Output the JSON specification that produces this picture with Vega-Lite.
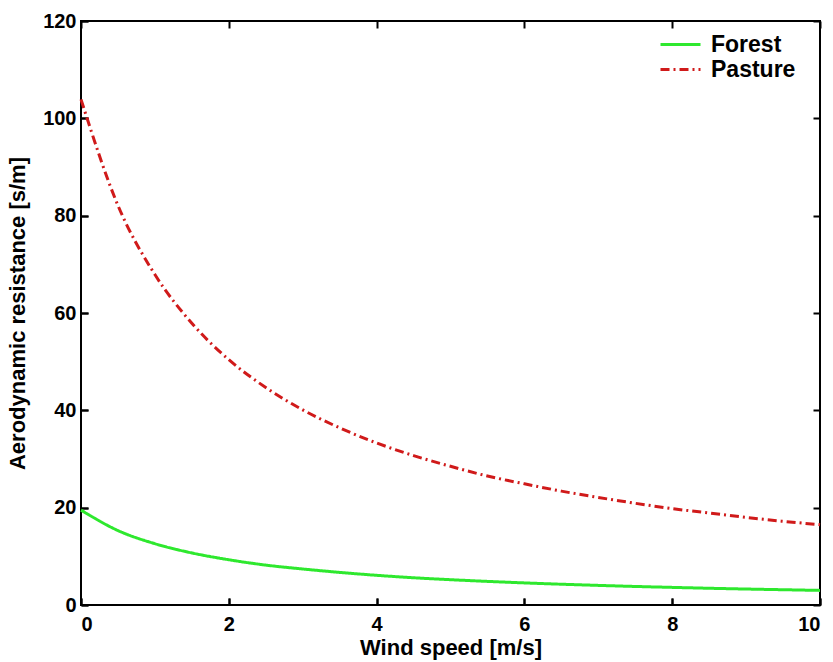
{
  "$schema": "https://vega.github.io/schema/vega-lite/v6.json",
  "width": 739,
  "height": 584,
  "autosize": {"type": "none"},
  "padding": {"left": 81, "top": 21, "right": 13, "bottom": 57},
  "background": "white",
  "config": {
    "view": {"stroke": "black", "strokeWidth": 2},
    "font": "Liberation Sans",
    "axis": {
      "grid": false,
      "domain": false,
      "ticks": true,
      "tickColor": "black",
      "tickOpacity": 1,
      "tickWidth": 2,
      "tickSize": 7,
      "offset": -7,
      "zindex": 1,
      "labelFont": "Liberation Sans",
      "labelFontWeight": "bold",
      "labelFontSize": 20,
      "labelColor": "black",
      "titleFont": "Liberation Sans",
      "titleFontWeight": "bold",
      "titleFontSize": 22,
      "titleColor": "black"
    }
  },
  "data": {
    "values": [
      {"u": 0, "r": 19.5, "s": "Forest"},
      {"u": 0.5, "r": 15.3, "s": "Forest"},
      {"u": 1, "r": 12.6, "s": "Forest"},
      {"u": 1.5, "r": 10.7, "s": "Forest"},
      {"u": 2, "r": 9.3, "s": "Forest"},
      {"u": 2.5, "r": 8.2, "s": "Forest"},
      {"u": 3, "r": 7.4, "s": "Forest"},
      {"u": 3.5, "r": 6.7, "s": "Forest"},
      {"u": 4, "r": 6.1, "s": "Forest"},
      {"u": 4.5, "r": 5.6, "s": "Forest"},
      {"u": 5, "r": 5.2, "s": "Forest"},
      {"u": 5.5, "r": 4.85, "s": "Forest"},
      {"u": 6, "r": 4.54, "s": "Forest"},
      {"u": 6.5, "r": 4.27, "s": "Forest"},
      {"u": 7, "r": 4.03, "s": "Forest"},
      {"u": 7.5, "r": 3.81, "s": "Forest"},
      {"u": 8, "r": 3.62, "s": "Forest"},
      {"u": 8.5, "r": 3.44, "s": "Forest"},
      {"u": 9, "r": 3.28, "s": "Forest"},
      {"u": 9.5, "r": 3.14, "s": "Forest"},
      {"u": 10, "r": 3.0, "s": "Forest"},
      {"u": 0, "r": 103.9, "s": "Pasture"},
      {"u": 0.5, "r": 82.1, "s": "Pasture"},
      {"u": 1, "r": 67.9, "s": "Pasture"},
      {"u": 1.5, "r": 57.9, "s": "Pasture"},
      {"u": 2, "r": 50.4, "s": "Pasture"},
      {"u": 2.5, "r": 44.7, "s": "Pasture"},
      {"u": 3, "r": 40.1, "s": "Pasture"},
      {"u": 3.5, "r": 36.4, "s": "Pasture"},
      {"u": 4, "r": 33.3, "s": "Pasture"},
      {"u": 4.5, "r": 30.7, "s": "Pasture"},
      {"u": 5, "r": 28.5, "s": "Pasture"},
      {"u": 5.5, "r": 26.5, "s": "Pasture"},
      {"u": 6, "r": 24.9, "s": "Pasture"},
      {"u": 6.5, "r": 23.4, "s": "Pasture"},
      {"u": 7, "r": 22.1, "s": "Pasture"},
      {"u": 7.5, "r": 20.9, "s": "Pasture"},
      {"u": 8, "r": 19.8, "s": "Pasture"},
      {"u": 8.5, "r": 18.9, "s": "Pasture"},
      {"u": 9, "r": 18.0, "s": "Pasture"},
      {"u": 9.5, "r": 17.2, "s": "Pasture"},
      {"u": 10, "r": 16.5, "s": "Pasture"}
    ]
  },
  "resolve": {"axis": {"x": "independent", "y": "independent"}},
  "layer": [
    {
      "mark": {"type": "line", "opacity": 0},
      "encoding": {
        "x": {"field": "u", "type": "quantitative", "scale": {"domain": [0, 10], "nice": false},
              "axis": {"orient": "bottom", "ticks": true, "title": "Wind speed [m/s]", "values": [0, 2, 4, 6, 8, 10], "labelPadding": 9, "titlePadding": 3}},
        "y": {"field": "r", "type": "quantitative", "scale": {"domain": [0, 120], "nice": false},
              "axis": {"orient": "left", "ticks": true, "title": "Aerodynamic resistance [s/m]", "values": [0, 20, 40, 60, 80, 100, 120], "labelPadding": 5, "titlePadding": 13}}
      }
    },
    {
      "mark": {"type": "line", "opacity": 0},
      "encoding": {
        "x": {"field": "u", "type": "quantitative", "axis": {"orient": "bottom", "labels": false, "title": null, "values": [0, 2, 4, 6, 8, 10]}},
        "y": {"field": "r", "type": "quantitative", "axis": {"orient": "left", "labels": false, "title": null, "values": [0, 20, 40, 60, 80, 100, 120]}}
      }
    },
    {
      "mark": {"type": "line", "strokeWidth": 3, "interpolate": "monotone"},
      "encoding": {
        "x": {"field": "u", "type": "quantitative", "axis": {"orient": "top", "labels": false, "title": null, "values": [0, 2, 4, 6, 8, 10]}},
        "y": {"field": "r", "type": "quantitative", "axis": {"orient": "right", "labels": false, "title": null, "values": [0, 20, 40, 60, 80, 100, 120]}},
        "color": {"field": "s", "type": "nominal",
                  "scale": {"domain": ["Forest", "Pasture"], "range": ["#2ee82e", "#d01a1a"]},
                  "legend": {"title": null, "orient": "none", "legendX": 588, "legendY": 12, "padding": 0, "symbolType": "M-2,0H2", "symbolSize": 400, "symbolStrokeWidth": 3, "labelOffset": 19, "labelFontSize": 23, "labelFontWeight": "bold", "labelFont": "Liberation Sans", "labelColor": "black", "rowPadding": 1}},
        "strokeDash": {"field": "s", "type": "nominal",
                       "scale": {"domain": ["Forest", "Pasture"], "range": [[1, 0], [9, 4, 2, 4]]},
                       "legend": null}
      }
    }
  ]
}
